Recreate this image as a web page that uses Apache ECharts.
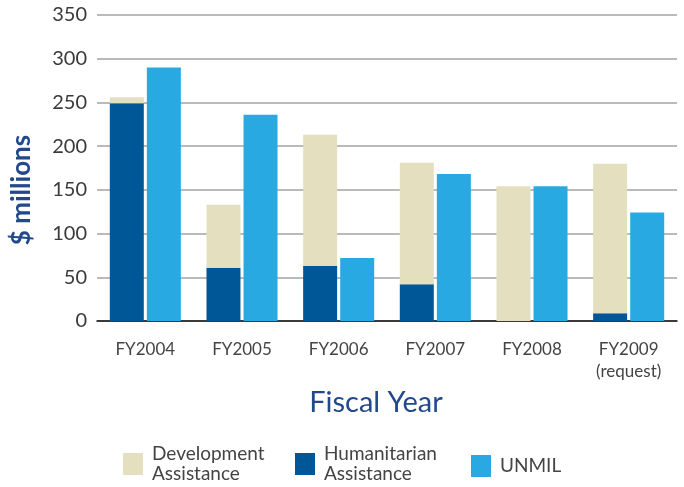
<!DOCTYPE html>
<html>
<head>
<meta charset="utf-8">
<script src="https://cdn.jsdelivr.net/npm/echarts@6/dist/echarts.min.js"></script>
<style>
  html, body { margin: 0; padding: 0; background: #fff; }
  #chart { width: 684px; height: 487px; }
</style>
</head>
<body>
<div id="chart"></div>
<script>
// Funding by fiscal year, $ millions
const years = ['FY2004', 'FY2005', 'FY2006', 'FY2007', 'FY2008', 'FY2009\n(request)'];
const humanitarian = [249, 61, 63, 42, 0, 9];
const development = [7, 72, 150, 139, 154, 171];
const unmil = [290, 236, 72, 168, 154, 124];
const yTicks = { min: 0, max: 350, step: 50 };

const FONT = 'Lato, "Open Sans", sans-serif';
const TITLE_BLUE = '#22498a';
const C_DEV = '#e3dfbf';
const C_HUM = '#005797';
const C_UNMIL = '#29a9e1';

const chart = echarts.init(document.getElementById('chart'), null, { renderer: 'canvas' });

function legendAt(name, left, top, label) {
  return {
    data: [name],
    left: left,
    top: top,
    itemWidth: 20,
    itemHeight: 22,
    icon: 'rect',
    selectedMode: false,
    formatter: () => label,
    textStyle: {
      fontFamily: FONT,
      fontSize: 19,
      color: '#444',
      lineHeight: 20,
      padding: [0, 0, 0, 4]
    }
  };
}

chart.setOption({
  animation: false,
  grid: { left: 97, right: 7, top: 15, bottom: 166 },
  legend: [
    legendAt('Development Assistance', 118, 439, 'Development\nAssistance'),
    legendAt('Humanitarian Assistance', 290, 439, 'Humanitarian\nAssistance'),
    legendAt('UNMIL', 466, 450, 'UNMIL')
  ],
  xAxis: {
    type: 'category',
    data: years,
    axisLine: { lineStyle: { color: '#111', width: 1.5 } },
    axisTick: { inside: true, length: 6, lineStyle: { color: '#aaa', width: 1.5 } },
    axisLabel: {
      fontFamily: FONT, fontSize: 17, color: '#444',
      margin: 18, lineHeight: 22
    }
  },
  yAxis: {
    type: 'value',
    min: yTicks.min,
    max: yTicks.max,
    interval: yTicks.step,
    axisLine: { show: false },
    axisTick: { show: false },
    axisLabel: { fontFamily: FONT, fontSize: 20, color: '#3a3a3a', margin: 10 },
    splitLine: { lineStyle: { color: '#a3a3a3', width: 1.5 } }
  },
  series: [
    {
      name: 'Humanitarian Assistance', type: 'bar', stack: 'aid',
      data: humanitarian, barWidth: 34, barGap: '9%',
      itemStyle: { color: C_HUM }
    },
    {
      name: 'Development Assistance', type: 'bar', stack: 'aid',
      data: development, barWidth: 34,
      itemStyle: { color: C_DEV }
    },
    {
      name: 'UNMIL', type: 'bar',
      data: unmil, barWidth: 34, barGap: '9%',
      itemStyle: { color: C_UNMIL }
    }
  ],
  graphic: [
    {
      type: 'text', x: 22, y: 190, rotation: Math.PI / 2,
      style: {
        text: '$ millions', fontFamily: FONT, fontSize: 26, fontWeight: 'bold',
        fill: TITLE_BLUE, align: 'center', verticalAlign: 'middle'
      }
    },
    {
      type: 'text', x: 376, y: 403,
      style: {
        text: 'Fiscal Year', fontFamily: FONT, fontSize: 29,
        fill: TITLE_BLUE, align: 'center', verticalAlign: 'middle'
      }
    }
  ]
});
</script>
</body>
</html>
